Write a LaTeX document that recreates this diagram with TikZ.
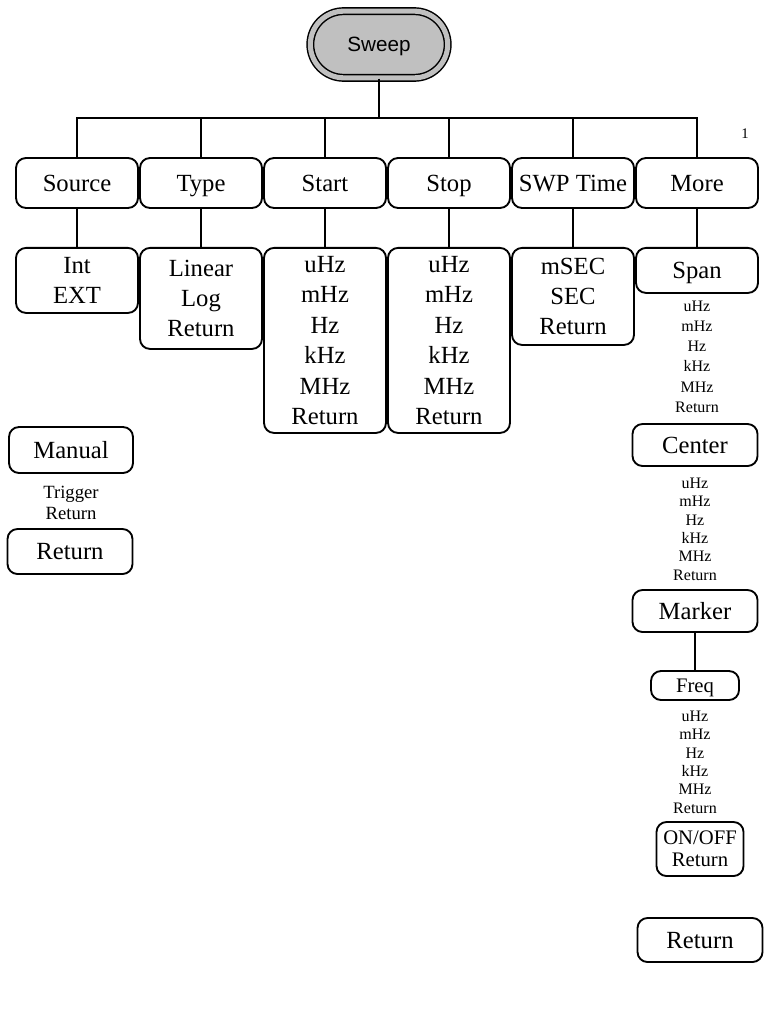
\documentclass[tikz,border=0pt]{standalone}
\usepackage{fontspec}
\setmainfont{Liberation Serif}
\newfontfamily\arialf{Liberation Sans}
\usetikzlibrary{positioning}
\definecolor{swgray}{RGB}{192,192,192}
\tikzset{
  wire/.style={line width=1.4pt},
  vc/.style={execute at begin node={\rule{0pt}{0.94em}},
             execute at end node={\rule[-0.28em]{0pt}{0.28em}}},
  ml/.style={execute at begin node={\rule{0pt}{\dimexpr#1\baselineskip+0.94em\relax}}},
  btn/.style={draw, line width=1.4pt, rounded corners=7.5pt, inner sep=0pt, vc,
              align=center, minimum width=91.5pt, font=\fontsize{18.5}{22.8}\selectfont},
  sbtn/.style={btn, font=\fontsize{15.5}{16.5}\selectfont},
  lst/.style={align=center, inner sep=0pt, vc, font=\fontsize{12}{15.2}\selectfont},
  root/.style={draw, line width=1.1pt, double=swgray, double distance=3.8pt, fill=swgray,
               rounded corners=25pt, minimum width=103pt, minimum height=50pt, vc,
               font=\arialf\fontsize{15.5}{18}\selectfont},
}
\begin{document}
\begin{tikzpicture}[x=0.75pt, y=-0.75pt]
  \useasboundingbox (0,0) rectangle (769,1012);
  \node[root] (sweep) at (379,44.5) {Sweep};
  \coordinate (bus) at (379,118);
  \draw[wire] (sweep) -- (bus);
  \node[font=\fontsize{11}{12}\selectfont] (pg) at (745,134) {1};

  \node[btn, minimum height=37.5pt] (src) at (77,183) {Source};
  \node[btn, minimum height=37.5pt] (typ) at (201,183) {Type};
  \node[btn, minimum height=37.5pt] (sta) at (325,183) {Start};
  \node[btn, minimum height=37.5pt] (sto) at (449,183) {Stop};
  \node[btn, minimum height=37.5pt] (swp) at (573,183) {SWP Time};
  \node[btn, minimum height=37.5pt] (mor) at (697,183) {More};
  \foreach \n in {src,typ,sta,sto,swp,mor}
    \draw[wire] (\n.north) |- (bus);

  \node[btn, ml=1, anchor=north, minimum height=48.75pt] (srcl) at (77,247) {Int\\EXT};
  \node[btn, ml=2, anchor=north, minimum height=75.75pt] (typl) at (201,247) {Linear\\Log\\Return};
  \node[btn, ml=5, anchor=north, minimum height=138.75pt] (stal) at (325,247) {uHz\\mHz\\Hz\\kHz\\MHz\\Return};
  \node[btn, ml=5, anchor=north, minimum height=138.75pt] (stol) at (449,247) {uHz\\mHz\\Hz\\kHz\\MHz\\Return};
  \node[btn, ml=2, anchor=north, minimum height=72.75pt] (swpl) at (573,247) {mSEC\\SEC\\Return};
  \node[btn, anchor=north, minimum height=33.75pt] (span) at (697,247) {Span};
  \foreach \a/\b in {src/srcl,typ/typl,sta/stal,sto/stol,swp/swpl,mor/span}
    \draw[wire] (\a.south) -- (\b.north);

  \node[lst, ml=5] (spanl) at (697,356.5) {uHz\\mHz\\Hz\\kHz\\MHz\\Return};
  \node[btn, minimum width=93.75pt, minimum height=31.5pt] (ctr) at (695,445) {Center};
  \node[lst, ml=5, font=\fontsize{12}{13.8}\selectfont] (ctrl) at (695,529) {uHz\\mHz\\Hz\\kHz\\MHz\\Return};
  \node[btn, minimum width=93.75pt, minimum height=31.5pt] (mkr) at (695,611) {Marker};
  \node[sbtn, minimum width=66pt, minimum height=21.75pt] (frq) at (695,685.5) {Freq};
  \draw[wire] (mkr) -- (frq);
  \node[lst, ml=5, font=\fontsize{12}{13.8}\selectfont] (frql) at (695,762) {uHz\\mHz\\Hz\\kHz\\MHz\\Return};
  \node[sbtn, ml=1, minimum width=65.25pt, minimum height=40.5pt] (onf) at (700,849) {ON/OFF\\Return};
  \node[btn, minimum width=93.75pt, minimum height=33pt] (retr) at (700,940) {Return};

  \node[btn, minimum width=93pt, minimum height=34.5pt] (man) at (71,450) {Manual};
  \node[lst, ml=1, font=\fontsize{14}{15.75}\selectfont] (manl) at (71,502.5) {Trigger\\Return};
  \node[btn, minimum width=93.75pt, minimum height=33.75pt] (retl) at (70,551.5) {Return};
\end{tikzpicture}
\end{document}
